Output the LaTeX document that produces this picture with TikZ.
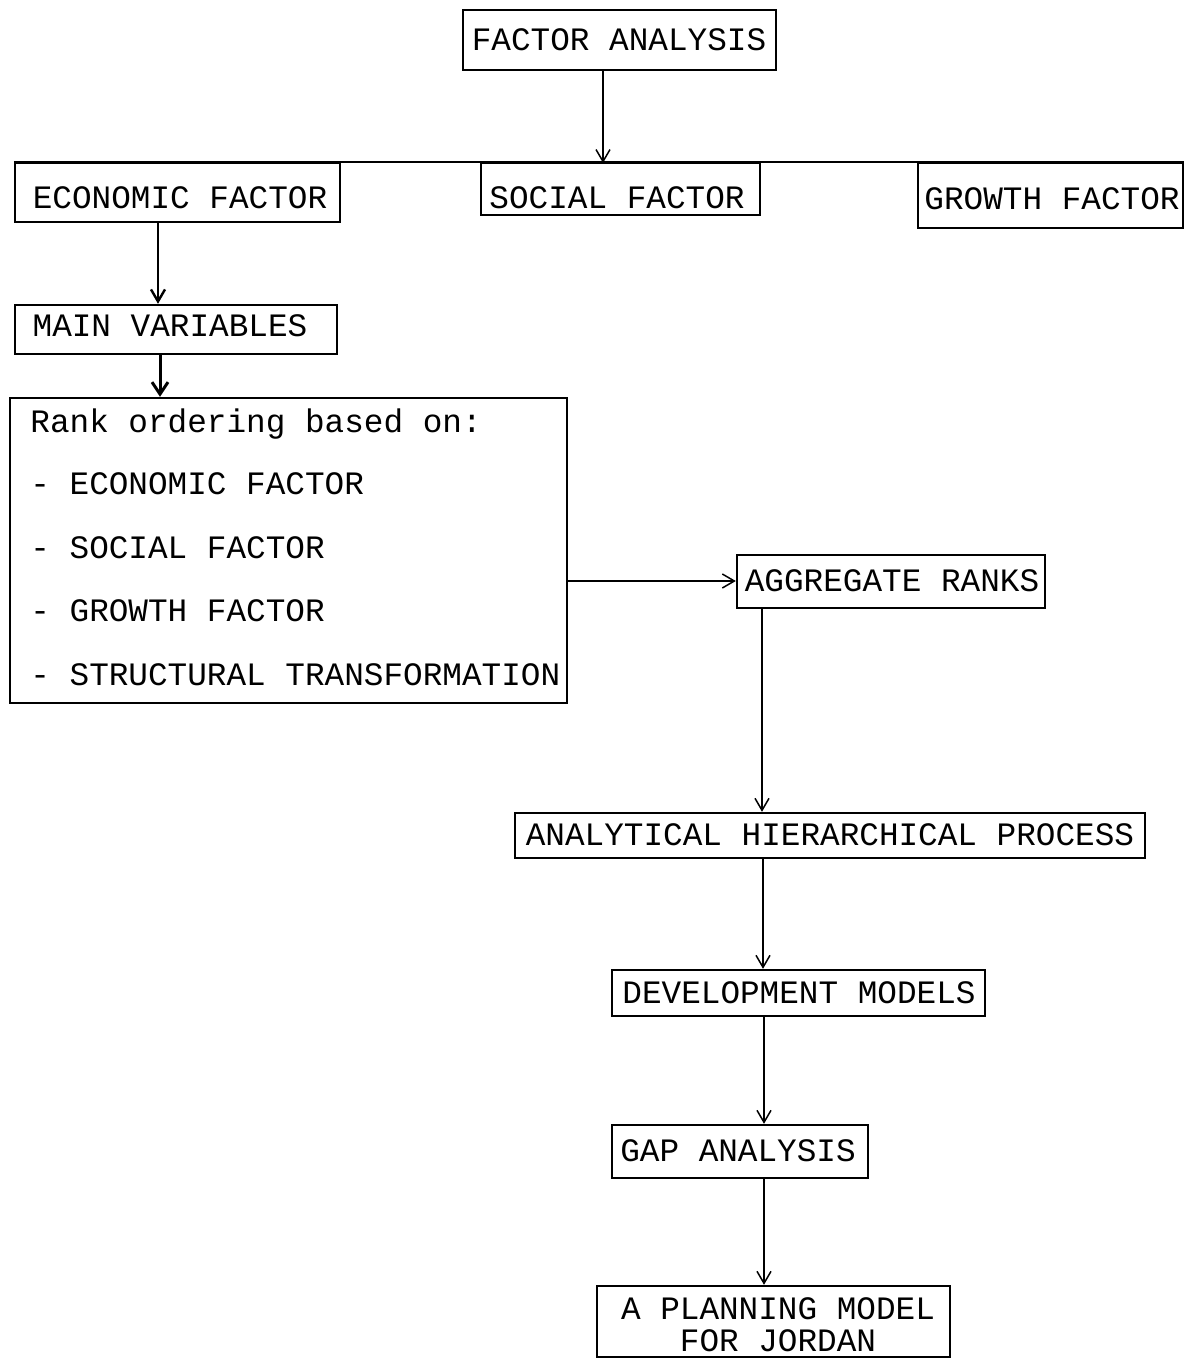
\documentclass[tikz,border=0pt]{standalone}
\usepackage{fontspec}
\newfontfamily\cour{Liberation Mono}
\usetikzlibrary{arrows.meta,fit}
\begin{document}
\begin{tikzpicture}[x=0.5pt,y=-0.5pt,
  box/.style={draw, line width=1.2pt, inner sep=0pt},
  lbl/.style={font=\cour\fontsize{16.35}{19}\selectfont, inner sep=0pt, text depth=0pt},
  arr/.style={line width=0.75pt, -{Straight Barb[length=6pt,width=7pt]}},
  tarr/.style={line width=1.5pt, -{Straight Barb[length=6pt,width=8pt]}}]
\useasboundingbox (0,0) rectangle (1190,1359);
% boxes
\node[box, fit={(463,10) (776,70)}] (fa) {};
\node[box, fit={(15,163) (340,222)}] (econ) {};
\node[box, fit={(481,163) (760,215)}] (soc) {};
\node[box, fit={(918,163) (1183,228)}] (grow) {};
\node[box, fit={(15,305) (337,354)}] (mv) {};
\node[box, fit={(10,398) (567,703)}] (rank) {};
\node[box, fit={(737,555) (1045,608)}] (agg) {};
\node[box, fit={(515,813) (1145,858)}] (ahp) {};
\node[box, fit={(612,970) (985,1016)}] (dev) {};
\node[box, fit={(612,1125) (868,1178)}] (gap) {};
\node[box, fit={(597,1286) (950,1357)}] (plan) {};
% texts
\node[lbl] at (619,40) {FACTOR ANALYSIS};
\node[lbl] at (180,198) {ECONOMIC FACTOR};
\node[lbl] at (617,198) {SOCIAL FACTOR};
\node[lbl] at (1052,199) {GROWTH FACTOR};
\node[lbl] at (170,326) {MAIN VARIABLES};
\node[lbl, anchor=west] at (30,421) {Rank ordering based on:};
\node[lbl, anchor=west] at (30,484) {- ECONOMIC FACTOR};
\node[lbl, anchor=west] at (30,548) {- SOCIAL FACTOR};
\node[lbl, anchor=west] at (30,611) {- GROWTH FACTOR};
\node[lbl, anchor=west] at (30,675) {- STRUCTURAL TRANSFORMATION};
\node[lbl] at (892,581) {AGGREGATE RANKS};
\node[lbl] at (830,835) {ANALYTICAL HIERARCHICAL PROCESS};
\node[lbl] at (799,993) {DEVELOPMENT MODELS};
\node[lbl] at (738,1151) {GAP ANALYSIS};
\node[lbl] at (778,1309) {A PLANNING MODEL};
\node[lbl] at (778,1341) {FOR JORDAN};
% bus line
\coordinate (bus) at (603,163);
\draw[line width=1.2pt] (econ.north west) -- (grow.north east);
% connectors
\draw[arr] (fa.south -| bus) -- (bus);
\coordinate (e1) at (158,0);
\draw[line width=1.2pt, -{Straight Barb[length=6pt,width=7pt]}] (econ.south -| e1) -- (mv.north -| e1);
\coordinate (m1) at (160,0);
\draw[tarr] (mv.south -| m1) -- (rank.north -| m1);
\coordinate (r1) at (0,581);
\draw[arr] (rank.east |- r1) -- (agg.west |- r1);
\coordinate (c1) at (762,0);
\draw[arr] (agg.south -| c1) -- (ahp.north -| c1);
\coordinate (c2) at (763,0);
\draw[arr] (ahp.south -| c2) -- (dev.north -| c2);
\coordinate (c3) at (764,0);
\draw[arr] (dev.south -| c3) -- (gap.north -| c3);
\draw[arr] (gap.south -| c3) -- (plan.north -| c3);
\end{tikzpicture}
\end{document}
